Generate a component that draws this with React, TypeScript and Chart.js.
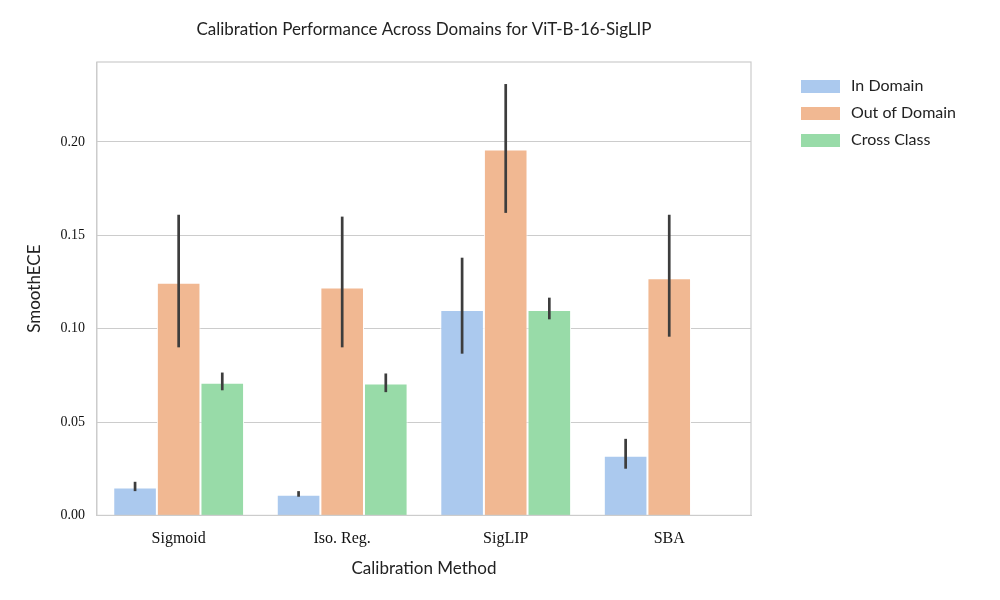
import { useEffect, useRef } from 'react';
import Chart from 'chart.js/auto';

const methods = ['Sigmoid', 'Iso. Reg.', 'SigLIP', 'SBA'];
const seriesNames = ['In Domain', 'Out of Domain', 'Cross Class'];
const colors = ['#abc9ee', '#f1b892', '#98dba8'];

const inDomain = [0.015, 0.011, 0.110, 0.032];
const outDomain = [0.1246, 0.122, 0.196, 0.127];
const crossClass = [0.071, 0.0706, 0.110, 0];

const inErr = [[0.013, 0.018], [0.010, 0.013], [0.0866, 0.138], [0.025, 0.041]];
const outErr = [[0.090, 0.161], [0.090, 0.160], [0.162, 0.231], [0.0957, 0.161]];
const crossErr = [[0.067, 0.0765], [0.066, 0.076], [0.105, 0.1166], null];

const yTicks = [0, 0.05, 0.1, 0.15, 0.2];
const serif = '"Liberation Serif", serif';
const sans = 'Lato, "Open Sans", sans-serif';

export default function App() {
  const canvasRef = useRef<HTMLCanvasElement | null>(null);

  useEffect(() => {
    if (!canvasRef.current) return;
    const errs = [inErr, outErr, crossErr];
    const extras = {
      id: 'extras',
      afterDatasetsDraw(chart: any) {
        const ctx = chart.ctx;
        const y = chart.scales.y;
        ctx.save();
        ctx.strokeStyle = '#3d3d3d';
        ctx.lineWidth = 2.7;
        errs.forEach((set, di) => {
          const meta = chart.getDatasetMeta(di);
          set.forEach((e, i) => {
            if (!e) return;
            const x = meta.data[i].x;
            ctx.beginPath();
            ctx.moveTo(x, y.getPixelForValue(e[0]));
            ctx.lineTo(x, y.getPixelForValue(e[1]));
            ctx.stroke();
          });
        });
        const a = chart.chartArea;
        ctx.strokeStyle = '#cccccc';
        ctx.lineWidth = 1.2;
        ctx.strokeRect(a.left, a.top, a.right - a.left, a.bottom - a.top);
        ctx.fillStyle = '#222';
        ctx.font = `17px ${sans}`;
        ctx.textAlign = 'center';
        ctx.textBaseline = 'middle';
        ctx.fillText('Calibration Performance Across Domains for ViT-B-16-SigLIP', (a.left + a.right) / 2, 30);
        ctx.textAlign = 'left';
        ctx.font = `16px ${sans}`;
        seriesNames.forEach((n, i) => {
          const ly = 86 + i * 27;
          ctx.fillStyle = colors[i];
          ctx.fillRect(801, ly - 6, 39, 13);
          ctx.fillStyle = '#222';
          ctx.fillText(n, 851, ly);
        });
        ctx.restore();
      },
    };
    const chart = new Chart(canvasRef.current, {
      type: 'bar',
      data: {
        labels: methods,
        datasets: [inDomain, outDomain, crossClass].map((d, i) => ({
          label: seriesNames[i],
          data: d,
          backgroundColor: colors[i],
          borderColor: '#ffffff',
          borderWidth: 1,
          categoryPercentage: 0.8,
          barPercentage: 1,
        })),
      },
      options: {
        animation: false,
        responsive: false,
        layout: { padding: { top: 62, right: 249, left: 20, bottom: 17 } },
        plugins: { legend: { display: false }, tooltip: { enabled: false } },
        scales: {
          x: {
            grid: { display: false },
            border: { color: '#cccccc' },
            ticks: { color: '#111', font: { family: serif, size: 16 }, padding: 6 },
            title: { display: true, text: 'Calibration Method', color: '#222', font: { family: sans, size: 17 } },
          },
          y: {
            min: 0,
            max: 0.2428,
            afterBuildTicks: (s: any) => { s.ticks = yTicks.map((v) => ({ value: v })); },
            grid: { color: '#cccccc', drawTicks: false },
            border: { color: '#cccccc' },
            ticks: { color: '#111', font: { family: serif, size: 14 }, padding: 12, callback: (v: any) => Number(v).toFixed(2) },
            title: { display: true, text: 'SmoothECE', color: '#222', font: { family: sans, size: 17 } },
          },
        },
      },
      plugins: [extras],
    });
    return () => chart.destroy();
  }, []);

  return (
    <div style={{ position: 'fixed', left: 0, top: 0, width: 1000, height: 600, background: '#fff' }}>
      <canvas ref={canvasRef} width={1000} height={600} />
    </div>
  );
}
